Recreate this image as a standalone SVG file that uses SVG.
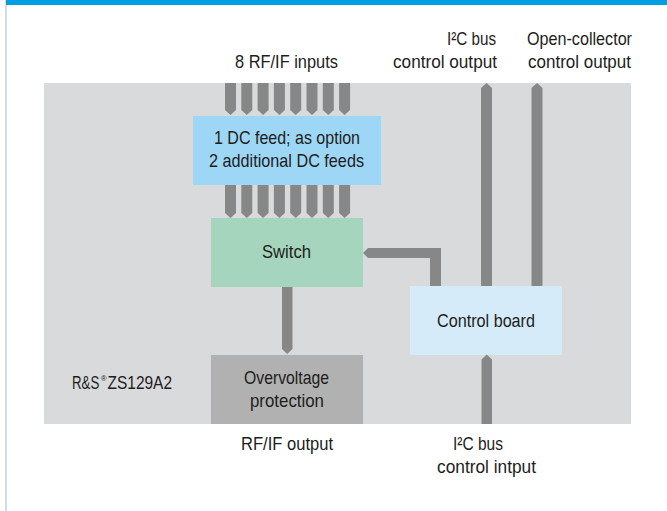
<svg xmlns="http://www.w3.org/2000/svg" width="667" height="511" viewBox="0 0 667 511">
<style>
text{font-family:"Liberation Sans",Arial,sans-serif;font-size:19px;fill:#1d1d1b}
.sup{font-size:8px}
.conn{fill:#878787}
</style>
<rect x="0" y="0" width="667" height="511" fill="#ffffff"/>
<rect x="5" y="0" width="2" height="511" fill="#d3dde4"/>
<rect x="6" y="0" width="661" height="5" fill="#009fe3"/>
<g id="panel">
<rect x="44" y="83" width="587" height="341" fill="#d9dadb"/>
<text transform="translate(72,389) scale(0.7,1)">R&amp;S</text>
<text class="sup" x="100.8" y="381">®</text>
<text transform="translate(107.5,389) scale(0.815,1)">ZS129A2</text>
</g>
<g id="dcfeed">
<rect x="193" y="116" width="188" height="69" fill="#9dd7f5"/>
<text x="214" y="144" textLength="146" lengthAdjust="spacingAndGlyphs">1 DC feed; as option</text>
<text x="209" y="167" textLength="155" lengthAdjust="spacingAndGlyphs">2 additional DC feeds</text>
</g>
<g id="switch">
<rect x="211" y="218" width="152" height="69" fill="#a5d5bc"/>
<text x="262" y="258" textLength="49" lengthAdjust="spacingAndGlyphs">Switch</text>
</g>
<g id="control">
<rect x="410" y="286" width="152" height="69" fill="#d5ebf9"/>
<text x="437" y="327" textLength="98" lengthAdjust="spacingAndGlyphs">Control board</text>
</g>
<g id="overvoltage">
<rect x="211" y="355" width="152" height="69" fill="#b1b1b1"/>
<text x="244" y="384" textLength="85" lengthAdjust="spacingAndGlyphs">Overvoltage</text>
<text x="250" y="407" textLength="74" lengthAdjust="spacingAndGlyphs">protection</text>
</g>
<g id="connectors">
<polygon class="conn" points="225,83 236,83 236,110 230.5,115 225,110"/>
<polygon class="conn" points="241.3,83 252.3,83 252.3,110 246.8,115 241.3,110"/>
<polygon class="conn" points="257.6,83 268.6,83 268.6,110 263.1,115 257.6,110"/>
<polygon class="conn" points="273.9,83 284.9,83 284.9,110 279.4,115 273.9,110"/>
<polygon class="conn" points="290.2,83 301.2,83 301.2,110 295.7,115 290.2,110"/>
<polygon class="conn" points="306.5,83 317.5,83 317.5,110 312,115 306.5,110"/>
<polygon class="conn" points="322.8,83 333.8,83 333.8,110 328.3,115 322.8,110"/>
<polygon class="conn" points="339.1,83 350.1,83 350.1,110 344.6,115 339.1,110"/>
<polygon class="conn" points="225,185 236,185 236,213 230.5,218 225,213"/>
<polygon class="conn" points="241.3,185 252.3,185 252.3,213 246.8,218 241.3,213"/>
<polygon class="conn" points="257.6,185 268.6,185 268.6,213 263.1,218 257.6,213"/>
<polygon class="conn" points="273.9,185 284.9,185 284.9,213 279.4,218 273.9,213"/>
<polygon class="conn" points="290.2,185 301.2,185 301.2,213 295.7,218 290.2,213"/>
<polygon class="conn" points="306.5,185 317.5,185 317.5,213 312,218 306.5,213"/>
<polygon class="conn" points="322.8,185 333.8,185 333.8,213 328.3,218 322.8,213"/>
<polygon class="conn" points="339.1,185 350.1,185 350.1,213 344.6,218 339.1,213"/>
<polygon class="conn" points="282,287 292.5,287 292.5,349 287.25,354 282,349"/>
<polygon class="conn" points="481,286 492,286 492,88 486.5,83 481,88"/>
<polygon class="conn" points="531.5,286 542.5,286 542.5,88 537,83 531.5,88"/>
<polygon class="conn" points="481.5,424 492,424 492,359.5 486.75,354.5 481.5,359.5"/>
<polygon class="conn" points="430,286 441,286 441,248 368,248 363,253 368,258 430,258"/>
</g>
<g id="labels">
<text x="235" y="68" textLength="103" lengthAdjust="spacingAndGlyphs">8 RF/IF inputs</text>
<text x="447" y="45" textLength="49" lengthAdjust="spacingAndGlyphs">I²C bus</text>
<text x="393" y="68" textLength="104" lengthAdjust="spacingAndGlyphs">control output</text>
<text x="527" y="45" textLength="105" lengthAdjust="spacingAndGlyphs">Open-collector</text>
<text x="528" y="68" textLength="103" lengthAdjust="spacingAndGlyphs">control output</text>
<text x="241" y="450" textLength="92" lengthAdjust="spacingAndGlyphs">RF/IF output</text>
<text x="453" y="450" textLength="50" lengthAdjust="spacingAndGlyphs">I²C bus</text>
<text x="437" y="473" textLength="99" lengthAdjust="spacingAndGlyphs">control intput</text>
</g>
</svg>
